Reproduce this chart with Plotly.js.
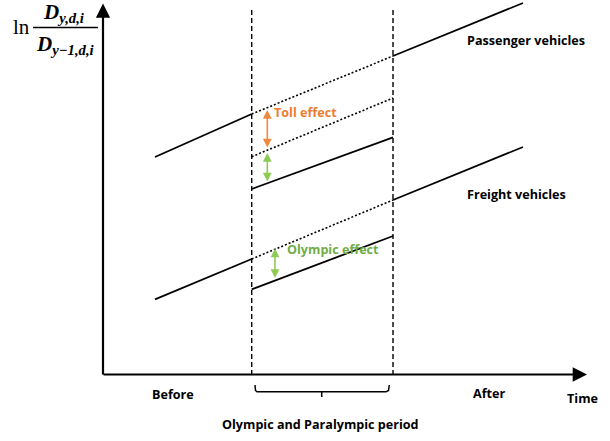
<!DOCTYPE html>
<html>
<head>
<meta charset="utf-8">
<script src="https://cdn.plot.ly/plotly-3.0.1.min.js"></script>
<style>html,body{margin:0;padding:0;background:#fff;}#chart{width:610px;height:441px;}</style>
</head>
<body>
<div id="chart"></div>
<script>
// Conceptual diagram values (x = time position, y = ln ratio level, screen-like units)
const periodBounds = [251.7, 393];            // start / end of Olympic & Paralympic period
const passengerX = [155, 251.7, 393, 523];
const passengerY = [157, 114, 56, 3];           // baseline trend
const tollX = [251.7, 393];
const tollY = [156.7, 98];                      // trend after toll effect
const passengerOlyX = [251.7, 393];
const passengerOlyY = [189, 137.3];             // after toll + Olympic effect
const freightX = [155, 251.7, 393, 523];
const freightY = [299.3, 259, 200, 147];
const freightOlyX = [251.7, 393];
const freightOlyY = [289.3, 236];
const axisTop = 10, axisBottom = 375;
const labels = ["Passenger vehicles", "Freight vehicles", "Toll effect", "Olympic effect", "Before", "After", "Time", "Olympic and Paralympic period"];

const solid = {color: '#000', width: 1.8};
const dotted = {color: '#000', width: 1.6, dash: '2px,2px'};
const dashed = {color: '#000', width: 1.4, dash: '5px,3px'};

function seg(x, y, line) { return {x: x, y: y, mode: 'lines', line: line, hoverinfo: 'skip', type: 'scatter'}; }

const traces = [
  seg([periodBounds[0], periodBounds[0]], [axisTop, axisBottom], dashed),
  seg([periodBounds[1], periodBounds[1]], [axisTop, axisBottom], dashed),
  seg(passengerX.slice(0, 2), passengerY.slice(0, 2), solid),
  seg(passengerX.slice(1, 3), passengerY.slice(1, 3), dotted),
  seg(passengerX.slice(2, 4), passengerY.slice(2, 4), solid),
  seg(tollX, tollY, dotted),
  seg(passengerOlyX, passengerOlyY, solid),
  seg(freightX.slice(0, 2), freightY.slice(0, 2), solid),
  seg(freightX.slice(1, 3), freightY.slice(1, 3), dotted),
  seg(freightX.slice(2, 4), freightY.slice(2, 4), solid),
  seg(freightOlyX, freightOlyY, solid),
  seg([255, 255.5, 257, 321.7, 321.7, 321.7, 386, 388.5, 389.3],
      [385, 390.5, 391.8, 391.8, 397, 391.8, 391.8, 390.5, 385], {color: '#000', width: 1.5})
];

const orange = '#ED7D31', orangeArrow = '#F0883E';
const green = '#70AD47', greenArrow = '#8DCB55';
const txtFont = {family: '"Open Sans", sans-serif', size: 12.6, color: '#000'};

function arrow(x0, y0, x1, y1, color, w, both) {
  return {x: x1, y: y1, ax: x0, ay: y0, xref: 'x', yref: 'y', axref: 'x', ayref: 'y',
    text: '', showarrow: true, arrowhead: 2, arrowsize: both ? 1.1 : 1.3, arrowwidth: w,
    arrowcolor: color, arrowside: both ? 'end+start' : 'end', standoff: 0, startstandoff: 0};
}
function txt(s, x, y, anchor, font) {
  return {x: x, y: y, xref: 'x', yref: 'y', text: s, showarrow: false, xanchor: anchor, yanchor: 'middle', font: font};
}
const bold = s => '<b>' + s + '</b>';

const annotations = [
  arrow(103, 376, 103, 3.5, '#000', 2.2, false),
  arrow(102, 374.5, 587, 374.5, '#000', 2.2, false),
  arrow(267.3, 149, 267.3, 110, orangeArrow, 1.6, true),
  arrow(267.3, 183, 267.3, 153, greenArrow, 1.6, true),
  arrow(275, 279.5, 275, 248.5, greenArrow, 1.6, true),
  txt(bold(labels[0]), 465, 40, 'left', txtFont),
  txt(bold(labels[1]), 465, 194, 'left', txtFont),
  txt(bold(labels[2]), 272, 112.5, 'left', Object.assign({}, txtFont, {color: orange})),
  txt(bold(labels[3]), 285, 249.5, 'left', Object.assign({}, txtFont, {color: green})),
  txt(bold(labels[4]), 173, 394, 'center', txtFont),
  txt(bold(labels[5]), 489, 393, 'center', txtFont),
  txt(bold(labels[6]), 582, 398, 'center', txtFont),
  txt(bold(labels[7]), 320, 424, 'center', txtFont),
  txt('ln', 21, 27, 'center', {family: '"Liberation Serif", serif', size: 21, color: '#000'}),
  txt('<b><i>D<sub>y,d,i</sub></i></b>', 64, 13, 'center', {family: '"Liberation Serif", serif', size: 21, color: '#000'}),
  txt('<b><i>D<sub>y−1,d,i</sub></i></b>', 65, 45, 'center', {family: '"Liberation Serif", serif', size: 21, color: '#000'})
];

const layout = {
  width: 610, height: 441,
  margin: {l: 0, r: 0, t: 0, b: 0},
  paper_bgcolor: '#fff', plot_bgcolor: '#fff',
  showlegend: false,
  xaxis: {range: [0, 610], visible: false, fixedrange: true},
  yaxis: {range: [441, 0], visible: false, fixedrange: true},
  shapes: [{type: 'line', xref: 'x', yref: 'y', x0: 33, x1: 98, y0: 27.5, y1: 27.5, line: {color: '#000', width: 1.3}}],
  annotations: annotations
};

Plotly.newPlot('chart', traces, layout, {displayModeBar: false, staticPlot: true});
</script>
</body>
</html>
